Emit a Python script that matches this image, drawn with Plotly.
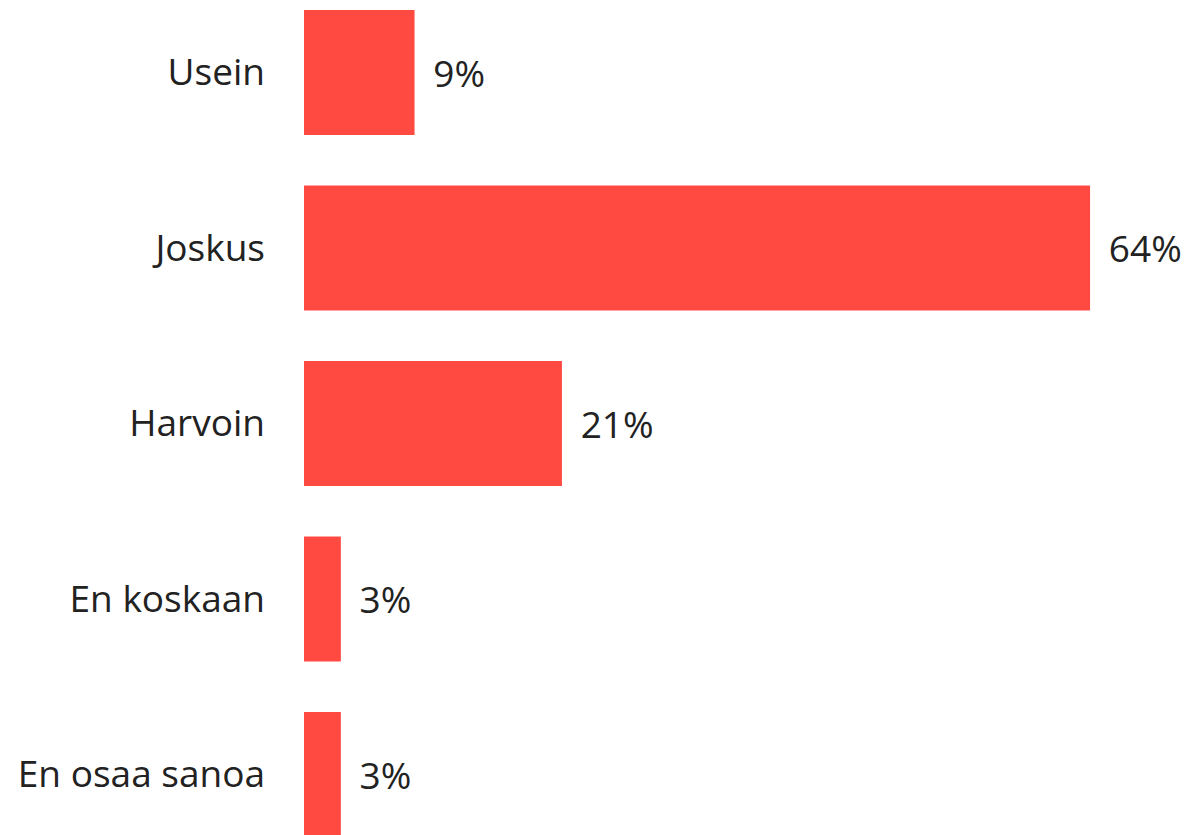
import plotly.graph_objects as go

categories = ["Usein", "Joskus", "Harvoin", "En koskaan", "En osaa sanoa"]
values = [9, 64, 21, 3, 3]

BAR_COLOR = "#FF4A42"
TEXT_COLOR = "#222222"
FONT = "Open Sans, Noto Sans, sans-serif"

fig = go.Figure(
    go.Bar(
        x=values,
        y=categories,
        orientation="h",
        marker=dict(color=BAR_COLOR, line=dict(width=0)),
        width=0.712,
        text=[f"{v}%" for v in values],
        texttemplate=" \u2009%{text}",
        textposition="outside",
        cliponaxis=False,
        textfont=dict(family=FONT, size=37, color=TEXT_COLOR),
        hoverinfo="skip",
    )
)

fig.update_layout(
    width=1184,
    height=827,
    margin=dict(l=296, r=0, t=0, b=0),
    paper_bgcolor="white",
    plot_bgcolor="white",
    showlegend=False,
    font=dict(family=FONT, size=37, color=TEXT_COLOR),
    xaxis=dict(
        range=[0, 72.3],
        visible=False,
        showgrid=False,
        zeroline=False,
    ),
    yaxis=dict(
        type="category",
        categoryorder="array",
        categoryarray=categories,
        range=[4.345, -0.3675],
        showgrid=False,
        zeroline=False,
        showline=False,
        ticks="",
        ticklabelstandoff=38,
        tickfont=dict(family=FONT, size=37, color=TEXT_COLOR),
    ),
)

fig.write_html("out.html")
